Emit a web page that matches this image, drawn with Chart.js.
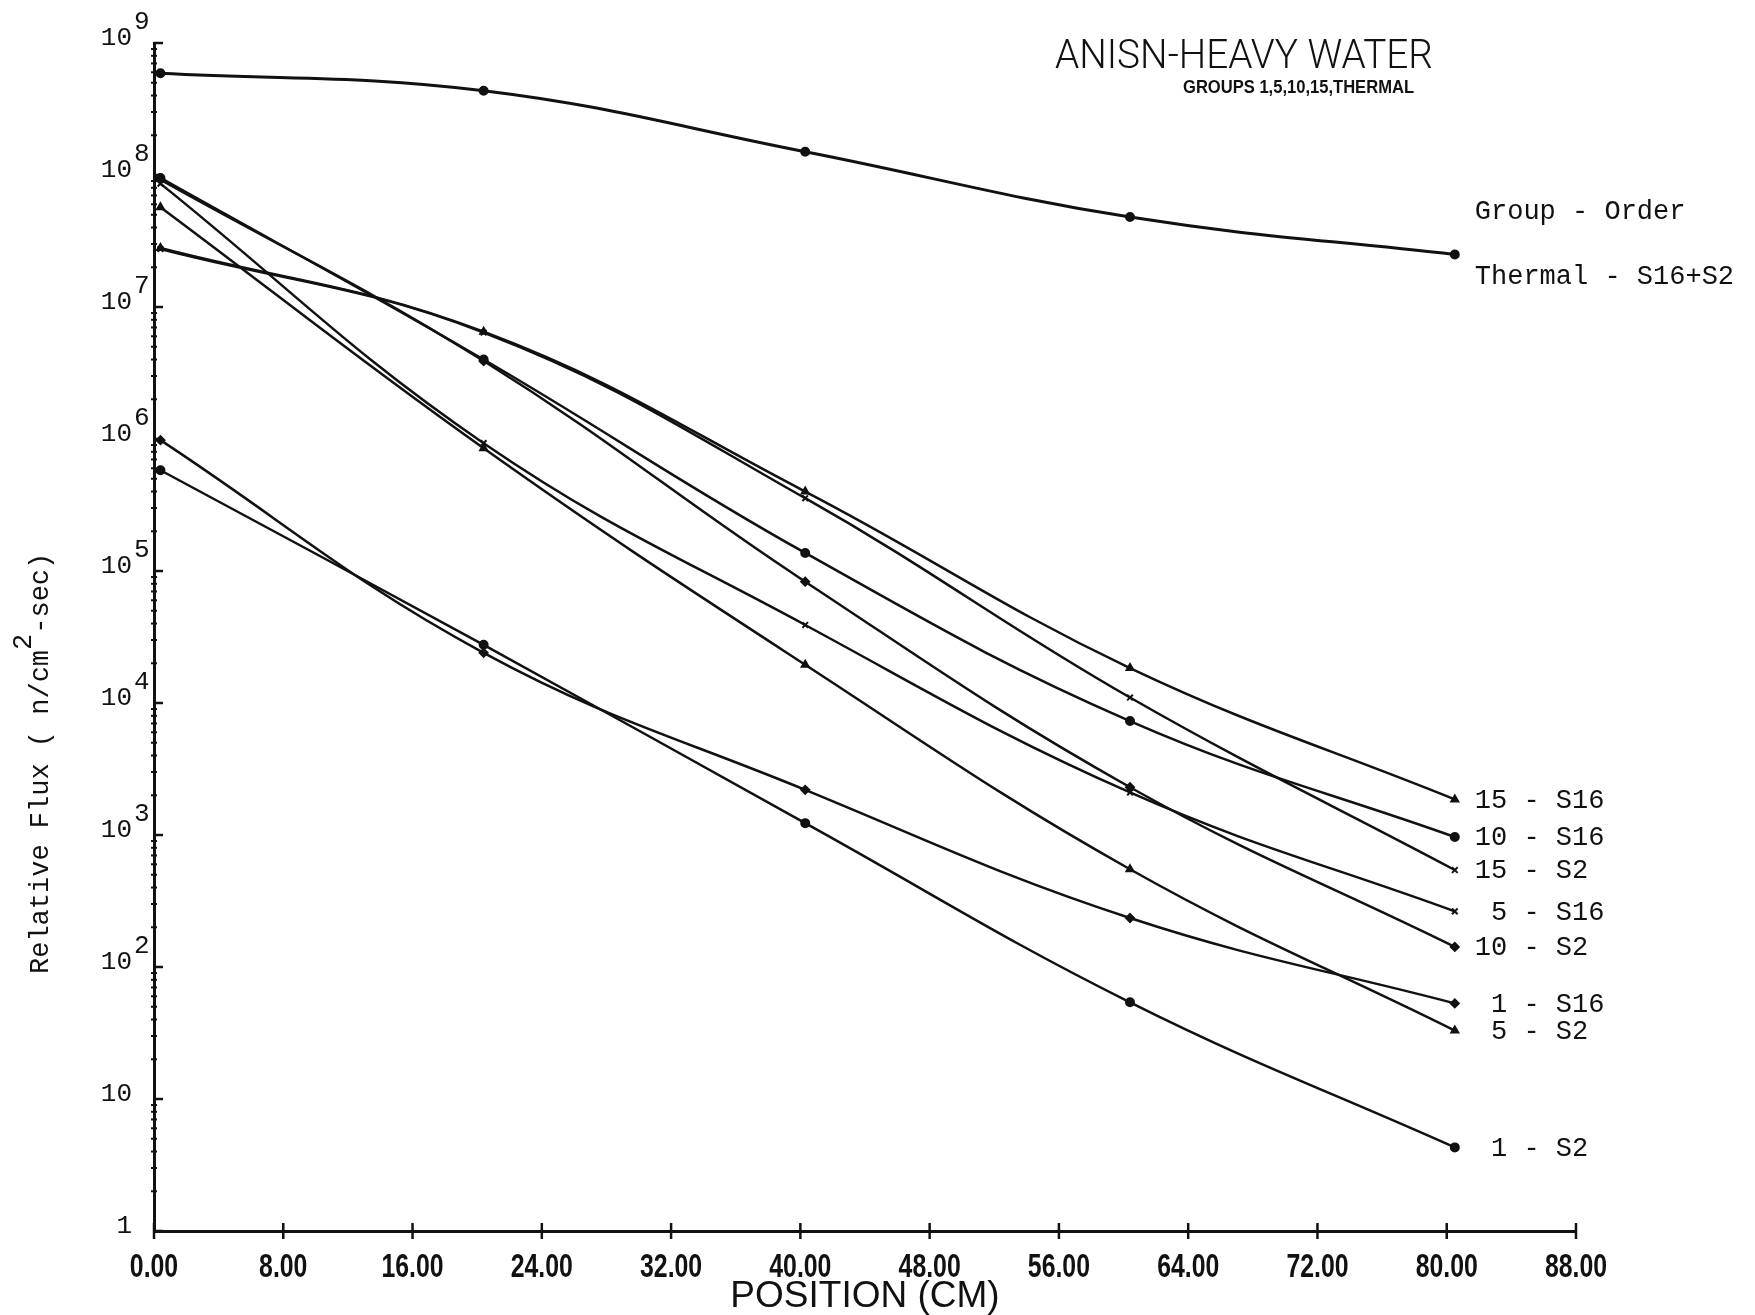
<!DOCTYPE html>
<html lang="en">
<head>
  <meta charset="UTF-8">
  <title>ANISN-HEAVY WATER</title>
  <script src="https://cdn.jsdelivr.net/npm/chart.js"></script>
  <style>
    html, body { margin: 0; padding: 0; background: #fff; }
    #wrap { width: 1755px; height: 1315px; position: relative; }
  </style>
</head>
<body>
<div id="wrap"><canvas id="chart"></canvas></div>
<script>
  // mesh positions (cm) where the flux was printed
  const positions = [0.4, 20.4, 40.3, 60.4, 80.5];

  // relative flux per group / quadrature order
  const thermal = [5.9e8, 4.35e8, 1.5e8, 4.8e7, 2.5e7];
  const g15s16  = [2.8e7, 6.5e6, 4.0e5, 1.84e4, 1.86e3];
  const g10s16  = [9.5e7, 4.0e6, 1.37e5, 7.3e3, 966];
  const g15s2   = [2.75e7, 6.4e6, 3.56e5, 1.1e4, 543];
  const g5s16   = [8.6e7, 9.3e5, 3.9e4, 2.1e3, 264];
  const g10s2   = [9.2e7, 3.9e6, 8.3e4, 2.3e3, 142];
  const g1s16   = [9.8e5, 2.4e4, 2.2e3, 235, 53];
  const g5s2    = [5.7e7, 8.5e5, 1.95e4, 550, 33];
  const g1s2    = [5.8e5, 2.76e4, 1.23e3, 54, 4.3];

  const groups = ['Thermal', '15', '10', '15', '5', '10', '1', '5', '1'];
  const orders = ['S16+S2', 'S16', 'S16', 'S2', 'S16', 'S2', 'S16', 'S2', 'S2'];
  const fluxes = [thermal, g15s16, g10s16, g15s2, g5s16, g10s2, g1s16, g5s2, g1s2];

  const xTickLabels = ['0.00', '8.00', '16.00', '24.00', '32.00', '40.00', '48.00', '56.00', '64.00', '72.00', '80.00', '88.00'];
  const yTickExponents = [0, 1, 2, 3, 4, 5, 6, 7, 8, 9];

  const markers = ['circle', 'triangle', 'circle', 'crossRot', 'crossRot', 'rectRot', 'rectRot', 'triangle', 'circle'];

  const INK = '#111';
  const MONO = '"Liberation Mono", "DejaVu Sans Mono", monospace';
  const SANS = '"Liberation Sans", Arial, sans-serif';

  // draw text squeezed/stretched horizontally
  function squeezeText(ctx, text, x, y, sx, align) {
    const w = ctx.measureText(text).width * sx;
    const x0 = align === 'center' ? x - w / 2 : x;
    ctx.save();
    ctx.translate(x0, y);
    ctx.scale(sx, 1);
    ctx.textAlign = 'left';
    ctx.fillText(text, 0, 0);
    ctx.restore();
  }

  function fitText(ctx, text, x, y, width) {
    squeezeText(ctx, text, x, y, width / ctx.measureText(text).width, 'left');
  }

  const annotate = {
    id: 'annotate',
    afterDraw(chart) {
      const { ctx, scales: { x, y } } = chart;
      ctx.save();
      ctx.fillStyle = INK;
      ctx.strokeStyle = INK;
      ctx.lineCap = 'butt';

      // y axis: decade ticks, minor dots, labels 10^n
      for (const e of yTickExponents) {
        const py = y.getPixelForValue(10 ** e);
        ctx.lineWidth = 2.5;
        ctx.beginPath(); ctx.moveTo(x.left, py); ctx.lineTo(x.left + 9, py); ctx.stroke();
        if (e < 9) {
          ctx.lineWidth = 2;
          for (let m = 2; m <= 9; m++) {
            const my = y.getPixelForValue(m * 10 ** e);
            ctx.beginPath(); ctx.moveTo(x.left - 3, my); ctx.lineTo(x.left + 3, my); ctx.stroke();
          }
        }
        ctx.font = '26px ' + MONO;
        ctx.textBaseline = 'alphabetic';
        ctx.textAlign = 'right';
        ctx.fillText(e === 0 ? '1' : '10', 132, py + 2);
        if (e > 1) {
          ctx.textAlign = 'left';
          ctx.fillText(String(e), 134, py - 14);
        }
      }

      // x axis ticks crossing the axis line, condensed plotter labels
      ctx.lineWidth = 2.5;
      ctx.font = 'bold 34px ' + SANS;
      ctx.textBaseline = 'alphabetic';
      x.ticks.forEach((t, i) => {
        const px = x.getPixelForValue(t.value);
        ctx.beginPath(); ctx.moveTo(px, y.bottom - 8); ctx.lineTo(px, y.bottom + 8); ctx.stroke();
        squeezeText(ctx, xTickLabels[i], px, 1277, 0.73, 'center');
      });

      // y axis title, with raised exponent
      ctx.font = '27px ' + MONO;
      ctx.textAlign = 'left';
      ctx.textBaseline = 'alphabetic';
      ctx.save();
      ctx.translate(48, 974);
      ctx.rotate(-Math.PI / 2);
      const pre = 'Relative Flux ( n/cm';
      ctx.fillText(pre, 0, 0);
      const w1 = ctx.measureText(pre).width;
      ctx.fillText('2', w1, -17);
      ctx.fillText('-sec)', w1 + ctx.measureText('2').width, 0);
      ctx.restore();

      // title block
      ctx.textBaseline = 'alphabetic';
      ctx.font = '300 40px Roboto, "Liberation Sans", sans-serif';
      fitText(ctx, 'ANISN-HEAVY WATER', 1055, 68, 378);
      ctx.font = 'bold 18px ' + SANS;
      fitText(ctx, 'GROUPS 1,5,10,15,THERMAL', 1183, 93, 231);

      // curve labels at the right end
      const last = positions.length - 1;
      const lx = x.getPixelForValue(positions[last]) + 20;
      ctx.font = '27px ' + MONO;
      ctx.textAlign = 'left';
      ctx.fillText('Group - Order', lx, 219);
      ctx.fillText(groups[0] + ' - ' + orders[0], lx, 284);
      ctx.textBaseline = 'middle';
      for (let i = 1; i < fluxes.length; i++) {
        const py = y.getPixelForValue(fluxes[i][last]);
        ctx.fillText(groups[i].padStart(2, ' ') + ' - ' + orders[i], lx, py + 1);
      }
      ctx.restore();
    }
  };

  const datasets = fluxes.map((vals, i) => ({
    label: groups[i] + ' - ' + orders[i],
    data: positions.map((p, k) => ({ x: p, y: vals[k] })),
    borderColor: INK,
    backgroundColor: INK,
    borderWidth: i === 0 ? 3 : 2.5,
    pointStyle: markers[i],
    pointRadius: 4,
    pointBorderWidth: 2,
    tension: 0.4,
    fill: false
  }));

  new Chart(document.getElementById('chart'), {
    type: 'line',
    data: { datasets },
    options: {
      responsive: true,
      maintainAspectRatio: false,
      animation: false,
      layout: { padding: { top: 43, right: 179, left: 0, bottom: 0 } },
      plugins: { legend: { display: false }, tooltip: { enabled: false } },
      scales: {
        x: {
          type: 'linear',
          min: 0,
          max: 88,
          ticks: { stepSize: 8, autoSkip: false, display: false },
          grid: { display: false, drawTicks: false },
          border: { display: true, color: INK, width: 3 },
          title: {
            display: true,
            text: 'POSITION (CM)',
            color: INK,
            font: { family: SANS, size: 37, lineHeight: 1.0 },
            padding: { top: 0, bottom: 0 }
          },
          afterFit: s => { s.height = 84; s.paddingLeft = 0; s.paddingRight = 0; }
        },
        y: {
          type: 'logarithmic',
          min: 1,
          max: 1e9,
          ticks: { display: false },
          grid: { display: false, drawTicks: false },
          border: { display: true, color: INK, width: 3 },
          afterFit: s => { s.width = 154; s.paddingTop = 0; s.paddingBottom = 0; }
        }
      }
    },
    plugins: [annotate]
  });
</script>
</body>
</html>
